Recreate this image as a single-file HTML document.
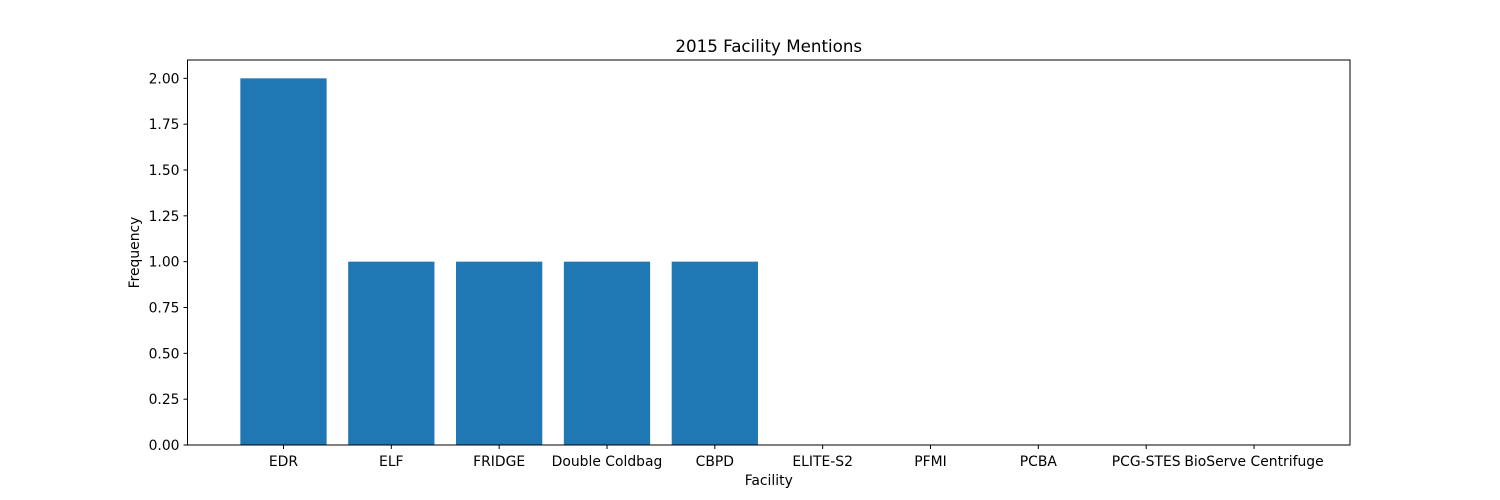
<!DOCTYPE html>
<html><head><meta charset="utf-8">
<style>
html,body{margin:0;padding:0;background:#fff;}
svg{display:block;font-family:"DejaVu Sans","Liberation Sans",sans-serif;}
</style></head>
<body>
<svg id="chart" width="1500" height="500" xmlns="http://www.w3.org/2000/svg">
<text x="768.75" y="52" font-size="16.7" text-anchor="middle">2015 Facility Mentions</text>
<text x="768.75" y="485" font-size="13.9" text-anchor="middle">Facility</text>
<text x="0" y="0" font-size="13.9" text-anchor="middle" transform="translate(139,252.5) rotate(-90)">Frequency</text>
<g id="bars"></g>
<g id="ticks"></g>
<rect x="187.5" y="60" width="1162.5" height="385" fill="none" stroke="#000" stroke-width="1"/>
</svg>
<script>
const categories = ["EDR","ELF","FRIDGE","Double Coldbag","CBPD","ELITE-S2","PFMI","PCBA","PCG-STES","BioServe Centrifuge"];
const values = [2,1,1,1,1,0,0,0,0,0];
const yTicks = [0,0.25,0.5,0.75,1,1.25,1.5,1.75,2];
const yTickLabels = ["0.00","0.25","0.50","0.75","1.00","1.25","1.50","1.75","2.00"];

const L=187.5,R=1350,T=60,B=445;
const xMin=-0.89,xMax=categories.length-1+0.89;
const yMax=2.1;
function xs(v){return L+(v-xMin)/(xMax-xMin)*(R-L);}
function ys(v){return B-v/yMax*(B-T);}
const NS="http://www.w3.org/2000/svg";
const bars=document.getElementById('bars'),ticks=document.getElementById('ticks');
categories.forEach((c,i)=>{
  if(values[i]>0){
    const r=document.createElementNS(NS,'rect');
    const x0=xs(i-0.4),x1=xs(i+0.4);
    r.setAttribute('x',x0);r.setAttribute('width',x1-x0);
    r.setAttribute('y',ys(values[i]));r.setAttribute('height',ys(0)-ys(values[i]));
    r.setAttribute('fill','#1f77b4');
    
    
    bars.appendChild(r);
  }
  const t=document.createElementNS(NS,'line');
  t.setAttribute('x1',xs(i));t.setAttribute('x2',xs(i));t.setAttribute('y1',B);t.setAttribute('y2',B+4);
  t.setAttribute('stroke','#000');
  
  
  ticks.appendChild(t);
  const tx=document.createElementNS(NS,'text');
  tx.setAttribute('x',xs(i));tx.setAttribute('y',B+21);tx.setAttribute('font-size','13.9');tx.setAttribute('text-anchor','middle');
  tx.textContent=c;
  
  
  ticks.appendChild(tx);
});
yTicks.forEach((v,i)=>{
  const t=document.createElementNS(NS,'line');
  t.setAttribute('x1',L-4);t.setAttribute('x2',L);t.setAttribute('y1',ys(v));t.setAttribute('y2',ys(v));
  t.setAttribute('stroke','#000');
  
  
  ticks.appendChild(t);
  const tx=document.createElementNS(NS,'text');
  tx.setAttribute('x',L-8);tx.setAttribute('y',ys(v)+5);tx.setAttribute('font-size','13.9');tx.setAttribute('text-anchor','end');
  tx.textContent=yTickLabels[i];
  
  
  ticks.appendChild(tx);
});
</script>
</body></html>
